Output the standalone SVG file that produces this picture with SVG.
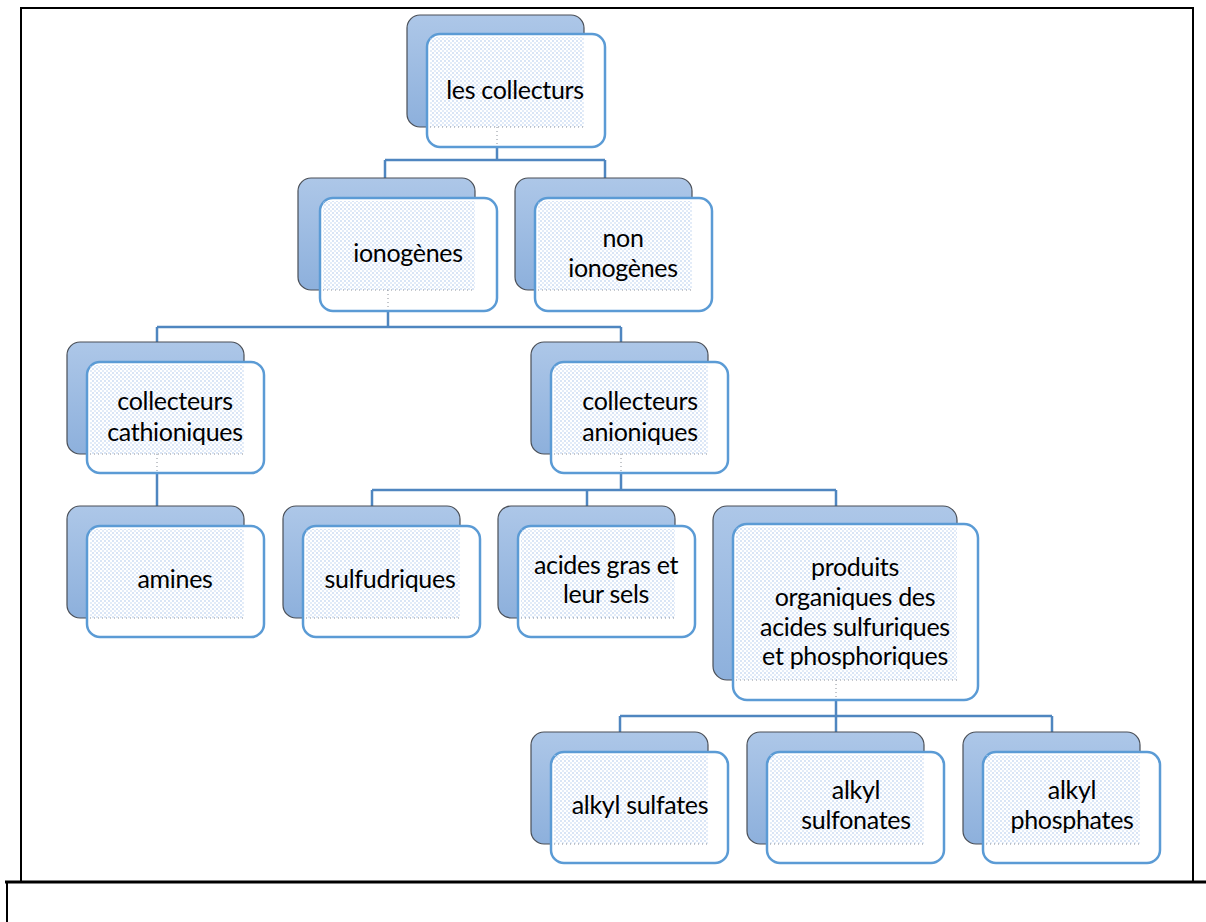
<svg xmlns="http://www.w3.org/2000/svg" width="1206" height="922" viewBox="0 0 1206 922">
<defs>
<linearGradient id="backGrad" x1="0" y1="0" x2="0" y2="1">
<stop offset="0" stop-color="#adc7e8"/>
<stop offset="1" stop-color="#8db0dc"/>
</linearGradient>
<pattern id="dots" x="0" y="0" width="4" height="4" patternUnits="userSpaceOnUse">
<circle cx="1" cy="1" r="0.8" fill="#a9c4ea"/>
<circle cx="3" cy="3" r="0.8" fill="#bed3f0"/>
</pattern>
<style>
.back{fill:url(#backGrad);stroke:#4a4f57;stroke-width:1.2}
.front{fill:#ffffff;stroke:#5b9bd5;stroke-width:2.5}
.dots{fill:url(#dots)}
.dl{stroke:#8a9099;stroke-width:1;stroke-dasharray:1 3;fill:none}
.conn{stroke:#4f86c0;stroke-width:2.5;fill:none}
.frame{stroke:#000;fill:none}
text{font-family:Lato,"Liberation Sans",sans-serif;font-size:25px;fill:#000;text-anchor:middle;letter-spacing:-0.3px}
</style>
</defs>
<rect width="1206" height="922" fill="#fff"/>
<g id="frame">
<path class="frame" stroke-width="2" d="M21 882 V8 H1193 V882"/>
<path class="frame" stroke-width="3.2" d="M5 882 H1206"/>
<path class="frame" stroke-width="2" d="M7 882 V922"/>
</g>
<g id="connectors">
<path class="conn" d="M497 147 V160 M385 160 H605 M385 160 V178 M605 160 V178"/>
<path class="conn" d="M388 311 V327 M157 327 H621 M157 327 V342 M621 327 V342"/>
<path class="conn" d="M157 473 V506"/>
<path class="conn" d="M621 473 V490 M372 490 H836 M372 490 V506 M587 490 V506 M836 490 V506"/>
<path class="conn" d="M836 700 V716 M620 716 H1052 M620 716 V732 M836 716 V732 M1052 716 V732"/>
</g>
<g id="n-collecturs">
<rect class="back" x="407" y="15" width="177" height="112" rx="13"/>
<rect class="front" x="427" y="34" width="178" height="113" rx="13"/>
<rect class="dots" x="430" y="37" width="154" height="90"/>
<path class="dl" d="M430 127 H584 M497 127 V146"/>
<text x="515" y="99">les collecturs</text>
</g>
<g id="n-ionogenes">
<rect class="back" x="298" y="178" width="177" height="112" rx="13"/>
<rect class="front" x="320" y="198" width="177" height="113" rx="13"/>
<rect class="dots" x="323" y="201" width="152" height="89"/>
<path class="dl" d="M323 290 H475 M388 290 V310"/>
<text x="408" y="262">ionogènes</text>
</g>
<g id="n-non-ionogenes">
<rect class="back" x="515" y="178" width="177" height="112" rx="13"/>
<rect class="front" x="535" y="198" width="177" height="113" rx="13"/>
<rect class="dots" x="538" y="201" width="154" height="89"/>
<path class="dl" d="M538 290 H692"/>
<text x="623" y="247">non</text>
<text x="623" y="277">ionogènes</text>
</g>
<g id="n-cathioniques">
<rect class="back" x="67" y="342" width="177" height="112" rx="13"/>
<rect class="front" x="87" y="362" width="177" height="111" rx="13"/>
<rect class="dots" x="90" y="365" width="154" height="89"/>
<path class="dl" d="M90 454 H244 M157 454 V472"/>
<text x="175" y="410">collecteurs</text>
<text x="175" y="441">cathioniques</text>
</g>
<g id="n-anioniques">
<rect class="back" x="531" y="342" width="177" height="112" rx="13"/>
<rect class="front" x="551" y="362" width="177" height="111" rx="13"/>
<rect class="dots" x="554" y="365" width="154" height="89"/>
<path class="dl" d="M554 454 H708 M621 454 V472"/>
<text x="640" y="410">collecteurs</text>
<text x="640" y="441">anioniques</text>
</g>
<g id="n-amines">
<rect class="back" x="67" y="506" width="177" height="112" rx="13"/>
<rect class="front" x="87" y="526" width="177" height="111" rx="13"/>
<rect class="dots" x="90" y="529" width="154" height="89"/>
<path class="dl" d="M90 618 H244"/>
<text x="175" y="588">amines</text>
</g>
<g id="n-sulfudriques">
<rect class="back" x="283" y="506" width="177" height="112" rx="13"/>
<rect class="front" x="303" y="526" width="177" height="111" rx="13"/>
<rect class="dots" x="306" y="529" width="154" height="89"/>
<path class="dl" d="M306 618 H460"/>
<text x="390" y="588">sulfudriques</text>
</g>
<g id="n-acides-gras">
<rect class="back" x="498" y="506" width="177" height="112" rx="13"/>
<rect class="front" x="518" y="526" width="177" height="111" rx="13"/>
<rect class="dots" x="521" y="529" width="154" height="89"/>
<path class="dl" d="M521 618 H675"/>
<text x="606" y="574">acides gras et</text>
<text x="606" y="603">leur sels</text>
</g>
<g id="n-produits">
<rect class="back" x="713" y="506" width="244" height="174" rx="14"/>
<rect class="front" x="733" y="524" width="245" height="176" rx="14"/>
<rect class="dots" x="736" y="527" width="221" height="153"/>
<path class="dl" d="M736 680 H957 M836 680 V699"/>
<text x="855" y="576">produits</text>
<text x="855" y="606">organiques des</text>
<text x="855" y="636">acides sulfuriques</text>
<text x="855" y="665">et phosphoriques</text>
</g>
<g id="n-alkyl-sulfates">
<rect class="back" x="531" y="732" width="177" height="112" rx="13"/>
<rect class="front" x="551" y="752" width="177" height="111" rx="13"/>
<rect class="dots" x="554" y="755" width="154" height="89"/>
<path class="dl" d="M554 844 H708"/>
<text x="640" y="814">alkyl sulfates</text>
</g>
<g id="n-alkyl-sulfonates">
<rect class="back" x="747" y="732" width="177" height="112" rx="13"/>
<rect class="front" x="767" y="752" width="177" height="111" rx="13"/>
<rect class="dots" x="770" y="755" width="154" height="89"/>
<path class="dl" d="M770 844 H924"/>
<text x="856" y="799">alkyl</text>
<text x="856" y="829">sulfonates</text>
</g>
<g id="n-alkyl-phosphates">
<rect class="back" x="963" y="732" width="177" height="112" rx="13"/>
<rect class="front" x="983" y="752" width="177" height="111" rx="13"/>
<rect class="dots" x="986" y="755" width="154" height="89"/>
<path class="dl" d="M986 844 H1140"/>
<text x="1072" y="799">alkyl</text>
<text x="1072" y="829">phosphates</text>
</g>
</svg>
